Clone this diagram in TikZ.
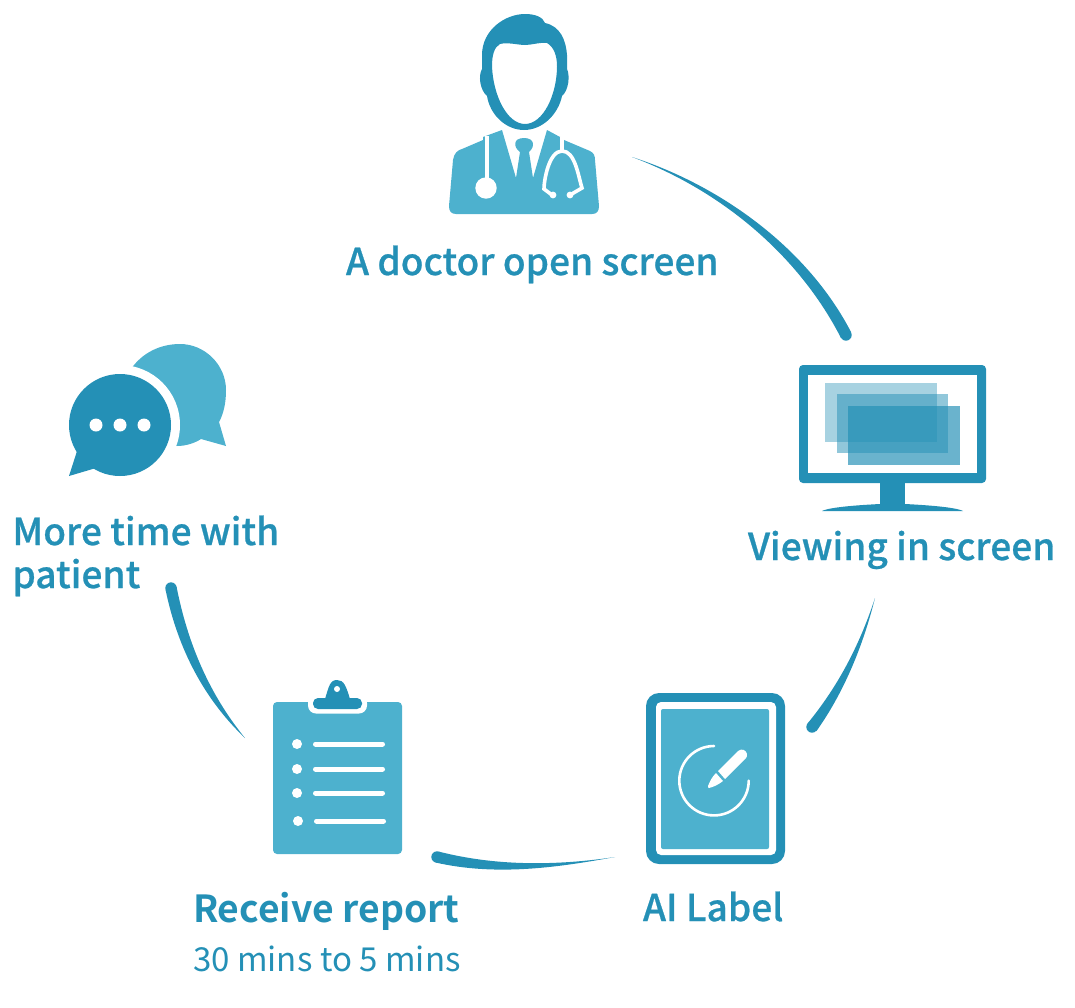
\documentclass[tikz,border=0pt]{standalone}
\usepackage{fontspec}
\setmainfont{Noto Sans CJK SC}[LetterSpace=0.2,BoldFont={Noto Sans CJK SC Medium},BoldFeatures={FakeBold=0.7}]
\newfontfamily\strongfont{Noto Sans CJK SC Bold}
\definecolor{dark}{HTML}{2490B6}
\definecolor{light}{HTML}{4DB1CE}
\tikzset{
  every node/.style={inner sep=0pt,outer sep=0pt,anchor=base west,text=dark},
  head/.style={font=\fontsize{37}{37}\selectfont\bfseries},
  strong/.style={font=\fontsize{37.3}{37}\selectfont\strongfont},
  sub/.style={font=\fontsize{33}{33}\selectfont},
  darkfill/.style={fill=dark,draw=none},
  lightfill/.style={fill=light,draw=none},
  whitefill/.style={fill=white,draw=none},
  whiteline/.style={draw=white,line cap=round,line width=#1},
  sheet/.style={fill=dark,draw=none,fill opacity=#1},
}
\begin{document}
\begin{tikzpicture}[x=1pt,y=-1pt]
\useasboundingbox (0,0) rectangle (1075,1007);
% labels
\node[head] (doctorlabel) at (346,275) {A doctor open screen};
\node[head] (viewlabel) at (748,560) {Viewing in screen};
\node[head] (ailabel) at (643,921) {AI Label};
\node[strong] (reportlabel) at (193,922) {Receive report};
\node[sub] (timelabel) at (193,971) {30 mins to 5 mins};
\node[head] (morelabel) at (12.5,545) {More time with};
\node[head] (patientlabel) at (12.5,588) {patient};
% cycle arcs
\coordinate (a1) at (632,157); \coordinate (a1e) at (846,335);
\coordinate (a2) at (875,598); \coordinate (a2e) at (812,727);
\coordinate (a3) at (615,857); \coordinate (a3e) at (437,857);
\coordinate (a4) at (245,738); \coordinate (a4e) at (171,588);
\fill[darkfill] (a1) .. controls (722,186) and (808,249) .. (851,332) -- (841,338) .. controls (798,254) and (720,190) .. (a1) -- cycle;
\fill[darkfill] (a1e) circle (5.7);
\fill[darkfill] (a2) .. controls (862,650) and (842,695) .. (816.5,731) -- (807.5,723.5) .. controls (835,690) and (858,650) .. (a2) -- cycle;
\fill[darkfill] (a2e) circle (5.7);
\fill[darkfill] (a3) .. controls (555,868) and (495,876) .. (435.5,862.5) -- (438.5,851.5) .. controls (495,866) and (555,866) .. (a3) -- cycle;
\fill[darkfill] (a3e) circle (5.7);
\fill[darkfill] (a4) .. controls (205,700) and (178,650) .. (165.5,589.5) -- (176.5,586.5) .. controls (188,645) and (210,695) .. (a4) -- cycle;
\fill[darkfill] (a4e) circle (5.7);
% doctor
\fill[lightfill] (449,206) -- (453,160) .. controls (454,153) and (458,150) .. (462,149) -- (483,140) -- (483,137) -- (502,130) -- (516,178) -- (520,152) .. controls (513,147) and (513,138) .. (524,138) .. controls (535,138) and (535,147) .. (529,152) -- (533,178) -- (547,130) -- (560,137) -- (564,140) -- (590,151) .. controls (594,153) and (595,156) .. (595,160) -- (599,206) .. controls (599,211) and (597,214) .. (592,214) -- (456,214) .. controls (451,214) and (449,211) .. (449,206) -- cycle;
\draw[whiteline=4pt,line cap=butt] (487,136) -- (487,180);
\fill[whitefill] (486,188) circle (10.7);
\draw[whiteline=4pt,line cap=butt] (562,137) -- (562,152);
\draw[whiteline=3.6pt] (552,195) -- (544,189) .. controls (544,180) and (549,151) .. (562,151) .. controls (575,151) and (578,175) .. (582,188) -- (570,195);
\fill[whitefill] (553,195) circle (3.4) (570,195) circle (3.4);
\fill[darkfill,even odd rule] (525,14) .. controls (535,14) and (543,17) .. (545,23) .. controls (560,26) and (566,40) .. (567,55) -- (567,69) .. controls (570,75) and (569,90) .. (562,96) .. controls (558,115) and (542,130) .. (524,130) .. controls (506,130) and (490,115) .. (487,96) .. controls (480,90) and (478,76) .. (482,69) -- (482,55) .. controls (482,30) and (505,14) .. (525,14) -- cycle
 (500,44) .. controls (508,42) and (518,45) .. (525,45) .. controls (532,45) and (540,42) .. (547,43) .. controls (554,47) and (557,56) .. (557,66) .. controls (557,95) and (543,124) .. (525,124) .. controls (507,124) and (493,95) .. (492,66) .. controls (492,56) and (494,47) .. (500,44) -- cycle;
% monitor
\fill[darkfill,rounded corners=4pt] (799,365) rectangle (986,483);
\fill[whitefill] (808,375) rectangle (977,473);
\fill[darkfill] (880,483) rectangle (905,504);
\fill[darkfill] (880,504) .. controls (860,505) and (830,507) .. (822,511) -- (963,511) .. controls (955,507) and (925,505) .. (905,504) -- cycle;
\fill[sheet=.4] (825,383) rectangle (937,442);
\fill[sheet=.5] (837,394) rectangle (948,453);
\fill[sheet=.68] (848,406) rectangle (960,465);
% tablet
\fill[darkfill,rounded corners=13pt] (646,693) rectangle (785,864);
\fill[whitefill,rounded corners=5pt] (656,702) rectangle (776,855);
\fill[lightfill,rounded corners=2pt] (661,709) rectangle (769,849);
\draw[whiteline=2.6pt] (714,746) arc (-90:-360:34.7);
\fill[whitefill] (718,771) -- (738,751) .. controls (742,748) and (746,750) .. (747,754) .. controls (747,756) and (747,757) .. (746,758) -- (725,779) -- cycle;
\fill[whitefill] (716,773) -- (723,781) .. controls (718,785) and (713,787) .. (709,788) .. controls (708,788) and (708,787) .. (708,786) .. controls (710,781) and (712,777) .. (716,773) -- cycle;
% clipboard
\fill[lightfill,rounded corners=4pt] (273,702) rectangle (402,854);
\fill[whitefill,rounded corners=8pt] (308,695) -- (308,713.5) -- (367,713.5) -- (367,695) -- cycle;
\fill[darkfill] (325,699) .. controls (329,686) and (330,680) .. (337,680) .. controls (344,680) and (346,686) .. (350,699) -- cycle;
\fill[darkfill,rounded corners=5pt] (313,698) rectangle (362,709);
\fill[whitefill] (337,689) circle (3);
\foreach \yy in {744,769,793} {
  \fill[whitefill] (297,\yy) circle (5);
  \draw[whiteline=5pt] (315.5,\yy) -- (382.5,\yy);
}
\fill[whitefill] (298,821) circle (5);
\draw[whiteline=5pt] (316.5,821) -- (383.5,821);
% chat
\fill[lightfill] (226,390) .. controls (226,365) and (205,344) .. (180,344) .. controls (160,344) and (142,353) .. (131,369) -- (120,425) -- (177,446) .. controls (186,446) and (195,443) .. (201,439) -- (226,446) -- (219,422) .. controls (224,413) and (226,402) .. (226,390) -- cycle;
\fill[whitefill] (120,425) circle (60);
\fill[darkfill] (120,425) circle (51);
\fill[darkfill] (78,448) -- (69,476) -- (96,468) -- (100,440) -- cycle;
\fill[whitefill] (96,425) circle (6.5) (120,425) circle (6.5) (144,425) circle (6.5);
\end{tikzpicture}
\end{document}
